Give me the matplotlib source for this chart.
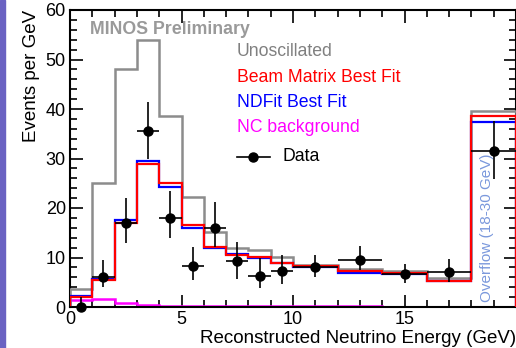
import numpy as np
import matplotlib
matplotlib.use("Agg")
import matplotlib.pyplot as plt
from matplotlib.patches import Rectangle
from matplotlib.ticker import MultipleLocator, FixedLocator

plt.rcParams['font.family'] = ['Liberation Sans', 'DejaVu Sans']

# bin edges in GeV, last bin is the overflow (18-30 GeV) drawn as 18-20
edges = [0, 1, 2, 3, 4, 5, 6, 7, 8, 9, 10, 12, 14, 16, 18, 20]

unosc = [3.7, 25, 48, 54, 38.5, 22.3, 15.2, 12, 11.6, 10.2, 8.5, 7.6, 7.2, 5.9, 39.6]
beam_fit = [2.0, 5.5, 17, 28.8, 25, 16.6, 12.2, 10.5, 10.1, 8.9, 8.2, 7.2, 6.8, 5.3, 38.6]
nd_fit = [2.3, 5.6, 17.6, 29.4, 24.3, 16.0, 12.0, 10.8, 9.8, 8.9, 8.1, 6.8, 6.6, 5.3, 37.4]
nc_bkg = [1.5, 1.6, 0.8, 0.5, 0.3, 0.3, 0.2, 0.2, 0.2, 0.2, 0.15, 0.15, 0.1, 0.1, 0.1]

data_x = [0.5, 1.5, 2.5, 3.5, 4.5, 5.5, 6.5, 7.5, 8.5, 9.5, 11, 13, 15, 17, 19]
data_xerr = [0.5, 0.5, 0.5, 0.5, 0.5, 0.5, 0.5, 0.5, 0.5, 0.5, 1, 1, 1, 1, 1]
data_y = [0, 6, 17, 35.5, 18, 8.2, 16, 9.2, 6.3, 7.2, 8, 9.5, 6.7, 7.1, 31.5]
data_lo = [0, 2, 4, 5.5, 4, 2.7, 3.8, 3.5, 2.5, 2.5, 2, 2.0, 1.8, 2.0, 5.7]
data_hi = [2, 3.5, 5, 6, 5.5, 4.0, 5.3, 4.0, 3.6, 3.3, 2.6, 2.9, 2.0, 2.6, 6.1]

W, H = 516, 348
fig = plt.figure(figsize=(W / 100, H / 100), dpi=100)
fig.patch.set_facecolor('white')
# purple slide edge on the left
fig.patches.append(Rectangle((0, 0), 5 / W, 1, transform=fig.transFigure,
                             color='#6a62c2', zorder=-1))

ax = fig.add_axes([70 / W, 41 / H, 446 / W, 297 / H])

ax.stairs(nc_bkg, edges, color='#ff00ff', lw=1.8, zorder=2)
ax.stairs(unosc, edges, color='#8c8c8c', lw=1.8, zorder=3)
ax.stairs(nd_fit, edges, color='#0000ff', lw=1.6, zorder=4)
ax.stairs(beam_fit, edges, color='#ff0000', lw=1.6, zorder=5)

ax.errorbar(data_x, data_y, xerr=data_xerr, yerr=[data_lo, data_hi],
            fmt='o', color='black', ms=6.5, elinewidth=1.2, capsize=0,
            zorder=6, clip_on=False)

ax.set_xlim(0, 20)
ax.set_ylim(0, 60)
ax.xaxis.set_major_locator(FixedLocator([0, 5, 10, 15]))
ax.xaxis.set_minor_locator(MultipleLocator(1))
ax.yaxis.set_major_locator(MultipleLocator(10))
ax.yaxis.set_minor_locator(MultipleLocator(2))
ax.tick_params(which='both', direction='in', top=True, right=True,
               labelsize=13, width=1.2)
ax.tick_params(which='major', length=9, pad=3)
ax.tick_params(which='minor', length=5)
for s in ax.spines.values():
    s.set_linewidth(1.5)

ax.set_xlabel('Reconstructed Neutrino Energy (GeV)', loc='right',
              fontsize=13.5, labelpad=1)
ax.set_ylabel('Events per GeV', loc='top', fontsize=13.5, labelpad=4)


def px(x, y):
    return x / W, 1 - y / H


fig.text(*px(90, 30), 'MINOS Preliminary', fontsize=12.8,
         fontweight='bold', color='#9a9a9a', va='center')

leg = [('Unoscillated', '#808080', 52),
       ('Beam Matrix Best Fit', '#ff0000', 78),
       ('NDFit Best Fit', '#0000ff', 103),
       ('NC background', '#ff00ff', 128)]
for label, col, yy in leg:
    fig.text(*px(237, yy), label, color=col, fontsize=12.7, va='center')
fig.text(*px(283, 157), 'Data', color='black', fontsize=12.7, va='center')
fig.lines.append(plt.Line2D([237 / W, 270 / W], [1 - 157 / H, 1 - 157 / H],
                            transform=fig.transFigure, color='black', lw=1.2))
fig.lines.append(plt.Line2D([253 / W], [1 - 157 / H], transform=fig.transFigure,
                            color='black', marker='o', ms=6.5, lw=0))

fig.text(*px(487, 228), 'Overflow (18-30 GeV)', rotation=90, color='#7a98dc',
         fontsize=11, ha='center', va='center')

fig.savefig('out.png', dpi=100)
